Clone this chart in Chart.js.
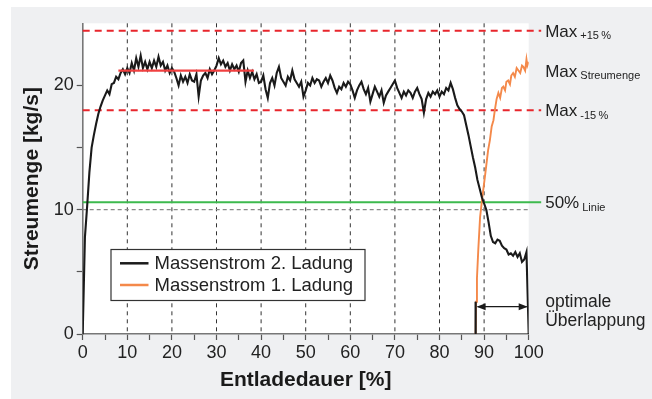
<!DOCTYPE html>
<html>
<head>
<meta charset="utf-8">
<script src="https://cdn.jsdelivr.net/npm/chart.js@4.4.1/dist/chart.umd.min.js"></script>
<style>
  html, body { margin: 0; padding: 0; background: #fff; }
</style>
</head>
<body>
<canvas id="chart" width="652" height="399"></canvas>
<script>
// Massenstrom 2. Ladung, sampled every 0.5 % of Entladedauer
const flowStep = 0.5
const flowLoad2 = [
  0, 7.8, 10.3, 13.0, 15.0, 16.0, 16.9, 17.7, 18.3, 18.8,
  19.2, 19.6, 19.3, 20.1, 20.2, 20.7, 20.5, 21.0, 21.3, 20.9,
  21.4, 21.0, 21.8, 21.2, 22.2, 21.5, 22.4, 21.4, 21.9, 21.3,
  21.9, 21.4, 22.0, 21.5, 22.3, 21.6, 21.9, 21.2, 21.6, 21.0,
  21.4, 21.1, 20.6, 20.0, 20.8, 20.3, 20.7, 20.2, 20.9, 20.4,
  20.3, 20.9, 19.1, 20.4, 20.8, 21.0, 20.6, 21.3, 20.9, 21.2,
  21.6, 22.2, 21.7, 22.0, 21.5, 21.8, 21.2, 21.7, 21.3, 21.6,
  21.1, 21.8, 22.0, 20.3, 21.2, 20.6, 21.1, 20.5, 20.9, 20.2,
  20.3, 20.8, 19.7, 19.0, 20.2, 20.6, 20.0, 21.0, 21.5, 20.6,
  20.3, 20.0, 20.7, 20.4, 21.2, 20.5, 20.2, 19.9, 20.3, 19.1,
  19.6, 20.2, 20.0, 20.6, 20.2, 20.5, 20.4, 19.9, 20.3, 20.6,
  20.2, 20.8, 20.4, 19.8, 19.4, 19.9, 19.7, 20.2, 19.9, 20.3,
  20.1, 19.6, 19.0, 19.6, 20.0, 20.3, 19.7, 19.3, 19.8, 18.7,
  19.3, 19.9, 19.5, 19.1, 19.6, 18.6, 19.2, 19.5, 19.8, 20.1,
  20.4, 19.8, 19.4, 19.0, 19.5, 19.2, 19.6, 19.4, 19.0, 19.5,
  19.8, 19.3, 18.9, 17.8, 18.9, 19.4, 19.1, 19.5, 19.3, 19.6,
  19.1, 19.5, 19.3, 19.8, 19.6, 20.2, 19.7, 19.0, 18.4, 18.1,
  17.9, 17.6, 16.8, 16.0, 15.1, 14.2, 13.4, 12.4, 11.7, 11.0,
  10.5, 10.0, 9.0, 7.9, 7.4, 7.3, 7.6, 7.5, 7.1, 6.9,
  6.8, 6.4, 6.5, 6.3, 6.6, 6.2, 6.5, 5.8, 6.0, 6.6,
  0
]

// Massenstrom 1. Ladung (starts at 88 %)
const durationLoad1 = [88.1, 88.2, 88.4, 88.7, 89.1, 89.6, 90.2, 90.9, 91.3, 91.7, 92.1, 92.4,
  92.8, 93.2, 93.6, 94.0, 94.3, 94.7, 95.0, 95.4, 95.8, 96.1, 96.5, 96.9, 97.3, 97.7,
  98.1, 98.5, 98.8, 99.2, 99.5, 99.7, 100]
const flowLoad1 = [0, 2.6, 4.5, 6.8, 9.4, 11.0, 12.7, 14.8, 15.6, 16.7, 17.2, 18.0,
  18.9, 19.4, 19.0, 19.8, 19.9, 19.6, 20.3, 20.4, 20.1, 20.8, 21.0, 20.7, 21.4, 21.2,
  21.0, 21.6, 21.5, 21.2, 22.1, 21.6, 21.9]

const gridDuration = [10, 20, 30, 40, 50, 60, 70, 80, 90]
const maxFlow = 21.2
const maxPlus15 = 24.4
const maxMinus15 = 18.0
const halfLine = 10.6
const plateau = [8, 38.4]
const overlap = [88.1, 100]
const overlapArrowAt = 2.2
const refLineEnd = 102.8
const labelAt = 103.7

const sideLabels = [
  { main: 'Max', sub: '+15\u2009%', value: maxPlus15 },
  { main: 'Max', sub: 'Streumenge', value: maxFlow },
  { main: 'Max', sub: '-15\u2009%', value: maxMinus15 },
  { main: '50%', sub: 'Linie', value: halfLine }
]

const FONT = '"Liberation Sans", Arial, Helvetica, sans-serif'
Chart.defaults.font.family = FONT

const line = (ctx, x1, y1, x2, y2, color, width, dash) => {
  ctx.save()
  ctx.strokeStyle = color
  ctx.lineWidth = width
  ctx.setLineDash(dash || [])
  ctx.beginPath()
  ctx.moveTo(x1, y1)
  ctx.lineTo(x2, y2)
  ctx.stroke()
  ctx.restore()
}

const arrowHead = (ctx, x, y, dir) => {
  ctx.beginPath()
  ctx.moveTo(x, y)
  ctx.lineTo(x - dir * 9, y - 3.5)
  ctx.lineTo(x - dir * 9, y + 3.5)
  ctx.closePath()
  ctx.fill()
}

const overlay = {
  id: 'overlay',
  beforeDraw (chart) {
    const { ctx, chartArea: a } = chart
    ctx.save()
    ctx.fillStyle = '#eff0f2'
    ctx.fillRect(11, 7, chart.width - 11, chart.height - 7)
    ctx.fillStyle = '#ffffff'
    ctx.fillRect(a.left, a.top, a.right - a.left, a.bottom - a.top)
    ctx.restore()
  },
  beforeDatasetsDraw (chart) {
    const { ctx, chartArea: a, scales: { x, y } } = chart
    gridDuration.forEach(v => {
      const px = x.getPixelForValue(v)
      line(ctx, px, a.top, px, a.bottom, '#333', 1, [4, 4])
    })
    line(ctx, a.left, y.getPixelForValue(10), a.right, y.getPixelForValue(10), '#8a8a8a', 1.2, [4, 3])
    const end = x.getPixelForValue(refLineEnd)
    ;[maxPlus15, maxMinus15].forEach(v => {
      const py = y.getPixelForValue(v)
      line(ctx, a.left, py, end, py, '#e8262c', 2, [7, 5])
    })
    const gy = y.getPixelForValue(halfLine)
    line(ctx, a.left, gy, end, gy, '#3dba4e', 2.2)
  },
  afterDatasetsDraw (chart) {
    const { ctx, scales: { x, y } } = chart
    // plateau (Max Streumenge)
    const ry = y.getPixelForValue(maxFlow)
    line(ctx, x.getPixelForValue(plateau[0]), ry, x.getPixelForValue(plateau[1]), ry, '#f04040', 2.2)

    // optimal overlap
    const x1 = x.getPixelForValue(overlap[0])
    const x2 = x.getPixelForValue(overlap[1])
    const ay = y.getPixelForValue(overlapArrowAt)
    line(ctx, x1, y.getPixelForValue(0), x1, y.getPixelForValue(2.6), '#1a1a1a', 2.2)
    line(ctx, x1 + 2, ay, x2 - 2, ay, '#1a1a1a', 1.4)
    ctx.save()
    ctx.fillStyle = '#1a1a1a'
    arrowHead(ctx, x1 + 1, ay, -1)
    arrowHead(ctx, x2 - 1, ay, 1)
    ctx.restore()

    // side labels
    const lx = x.getPixelForValue(labelAt)
    ctx.save()
    ctx.fillStyle = '#222'
    ctx.textAlign = 'left'
    ctx.textBaseline = 'alphabetic'
    sideLabels.forEach(l => {
      const cy = y.getPixelForValue(l.value)
      ctx.font = '17px ' + FONT
      ctx.fillText(l.main, lx, cy + 6.2)
      const w = ctx.measureText(l.main).width
      ctx.font = '11px ' + FONT
      ctx.fillText(l.sub, lx + w + 3, cy + 8.5)
    })
    ctx.font = '17.5px ' + FONT
    ctx.textBaseline = 'middle'
    ctx.fillText('optimale', lx, ay - 4.5)
    ctx.fillText('Überlappung', lx, ay + 14.5)
    ctx.restore()

    // legend box
    ctx.save()
    ctx.fillStyle = '#fff'
    ctx.fillRect(111, 249.5, 254, 51)
    ctx.strokeStyle = '#333'
    ctx.lineWidth = 1.2
    ctx.strokeRect(111, 249.5, 254, 51)
    ctx.font = '18.5px ' + FONT
    ctx.textBaseline = 'middle'
    ctx.fillStyle = '#222'
    chart.data.datasets.forEach((ds, i) => {
      const cy = 263.3 + i * 21.7
      line(ctx, 120, cy, 148.5, cy, ds.borderColor, 2.5)
      ctx.fillText(ds.label, 154.5, cy + 0.5)
    })
    ctx.restore()
  }
}

const ctx = document.getElementById('chart').getContext('2d')
const chart = new Chart(ctx, {
  type: 'line',
  data: {
    datasets: [{
      label: 'Massenstrom 2. Ladung',
      data: flowLoad2.map((v, i) => ({ x: i * flowStep, y: v })),
      borderColor: '#1a1a1a',
      borderWidth: 2.1,
      pointRadius: 0,
      tension: 0
    }, {
      label: 'Massenstrom 1. Ladung',
      data: durationLoad1.map((d, i) => ({ x: d, y: flowLoad1[i] })),
      borderColor: '#f4894a',
      borderWidth: 1.9,
      pointRadius: 0,
      tension: 0
    }]
  },
  options: {
    responsive: false,
    animation: false,
    layout: { padding: { left: 11, right: 123.3, top: 23.3, bottom: 0 } },
    plugins: { legend: { display: false }, tooltip: { enabled: false } },
    scales: {
      x: {
        type: 'linear',
        min: 0,
        max: 100,
        afterFit: s => { s.height = 65 },
        ticks: {
          stepSize: 5,
          autoSkip: false,
          maxRotation: 0,
          padding: 2,
          color: '#222',
          font: { size: 18 },
          callback: v => v % 10 === 0 ? String(v) : ''
        },
        grid: { drawOnChartArea: false, tickLength: 6, tickColor: '#555', tickWidth: 1.2 },
        border: { color: '#777', width: 1.6 },
        title: {
          display: true,
          text: 'Entladedauer [%]',
          color: '#1a1a1a',
          font: { size: 21, weight: 'bold' },
          padding: { top: 6.5, bottom: 6.5 }
        }
      },
      y: {
        min: 0,
        max: 25,
        afterFit: s => { s.width = 71.7 },
        ticks: {
          stepSize: 5,
          padding: 3,
          color: '#222',
          font: { size: 18 },
          callback: v => v % 10 === 0 ? String(v) : ''
        },
        grid: {
          drawOnChartArea: false,
          tickLength: 6,
          tickWidth: 1.2,
          tickColor: c => c.tick && c.tick.value === 25 ? 'rgba(0,0,0,0)' : '#555'
        },
        border: { color: '#777', width: 1.6 },
        title: {
          display: true,
          text: 'Streumenge [kg/s]',
          color: '#1a1a1a',
          font: { size: 21, weight: 'bold' },
          padding: { top: 9, bottom: 9 }
        }
      }
    }
  },
  plugins: [overlay]
})
</script>
</body>
</html>
